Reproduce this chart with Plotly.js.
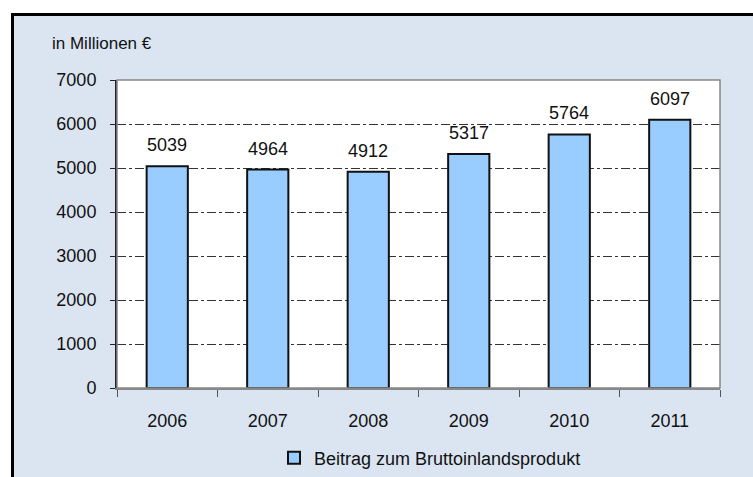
<!DOCTYPE html>
<html>
<head>
<meta charset="utf-8">
<script src="https://cdn.plot.ly/plotly-3.0.1.min.js"></script>
<style>
  html, body { margin: 0; padding: 0; background: #ffffff; overflow: hidden; width: 753px; height: 477px; }
  #frame { position: absolute; left: 11px; top: 13px; width: 742px; height: 464px;
           border-left: 3px solid #000; border-top: 3px solid #000; }
  #chart { position: absolute; left: 0; top: 0; width: 739px; height: 461px; }
</style>
</head>
<body>
<div id="frame"><div id="chart"></div></div>
<script>
const years = ['2006', '2007', '2008', '2009', '2010', '2011'];
const values = [5039, 4964, 4912, 5317, 5764, 6097];
const seriesName = 'Beitrag zum Bruttoinlandsprodukt';
const unitLabel = 'in Millionen €';
const yTicks = [0, 1000, 2000, 3000, 4000, 5000, 6000, 7000];

const FONT = 'Liberation Sans, Arial, sans-serif';

const trace = {
  type: 'bar',
  x: years,
  y: values,
  name: seriesName,
  marker: { color: '#99ccff', line: { color: '#111111', width: 2 } },
  hoverinfo: 'x+y'
};

// on a category axis, annotation x is the category's serial index
const annotations = years.map((yr, i) => ({
  x: i, y: values[i], xref: 'x', yref: 'y',
  text: String(values[i]), showarrow: false,
  yanchor: 'bottom', yshift: 9,
  font: { family: FONT, size: 18, color: '#111111' }
}));

const layout = {
  width: 739, height: 461,
  margin: { l: 103, r: 33, t: 64, b: 89, autoexpand: false },
  paper_bgcolor: '#dbe5f1',
  plot_bgcolor: '#ffffff',
  bargap: 0.59,
  showlegend: true,
  title: {
    text: unitLabel, xref: 'container', yref: 'container',
    x: 38 / 739, xanchor: 'left', y: 1 - 27 / 461, yanchor: 'middle',
    font: { family: FONT, size: 17, color: '#111111' }
  },
  xaxis: {
    type: 'category',
    tickson: 'boundaries',
    ticks: 'outside', ticklen: 7, tickcolor: '#555555', tickwidth: 1,
    showline: true, linecolor: '#888888', linewidth: 1.5,
    showgrid: false,
    tickangle: 0,
    ticklabelstandoff: 16,
    tickfont: { family: FONT, size: 18, color: '#111111' },
    automargin: false,
    fixedrange: true
  },
  yaxis: {
    range: [0, 7000],
    tickvals: yTicks,
    ticktext: yTicks.map(String),
    ticks: 'outside', ticklen: 5, tickcolor: '#222222', tickwidth: 1,
    showline: true, linecolor: '#222222', linewidth: 2,
    showgrid: true, gridcolor: '#333333', gridwidth: 1, griddash: 'dashdot',
    zeroline: false,
    ticklabelstandoff: 10,
    tickfont: { family: FONT, size: 18, color: '#111111' },
    automargin: false,
    fixedrange: true
  },
  legend: {
    orientation: 'h', xref: 'container', yref: 'container',
    x: 416 / 739, xanchor: 'center', y: (461 - 442) / 461, yanchor: 'middle',
    bgcolor: 'rgba(0,0,0,0)',
    font: { family: FONT, size: 18, color: '#111111' },
    itemwidth: 30
  },
  shapes: [{
    type: 'rect', xref: 'paper', yref: 'paper', x0: 0, x1: 1, y0: 0, y1: 1,
    line: { color: '#888888', width: 1.5 }, layer: 'above'
  }],
  annotations: annotations
};

Plotly.newPlot('chart', [trace], layout, { displayModeBar: false, staticPlot: true });
</script>
</body>
</html>
